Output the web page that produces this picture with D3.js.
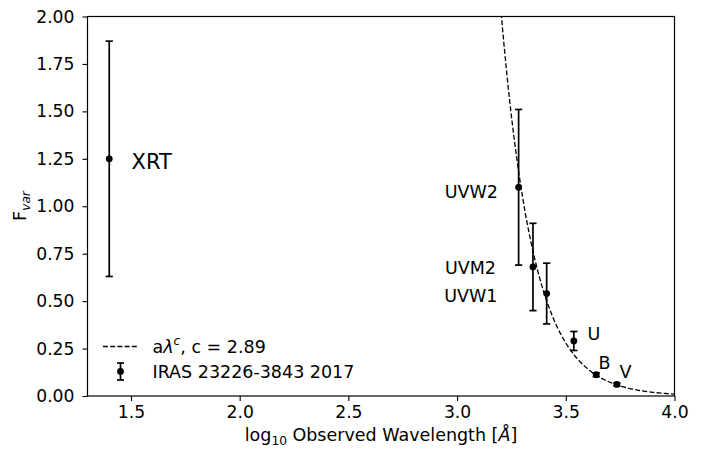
<!DOCTYPE html>
<html><head><meta charset="utf-8">
<script src="https://cdn.jsdelivr.net/npm/d3@7"></script>
<style>body{margin:0;background:#fff}svg{display:block;font-family:"DejaVu Sans",sans-serif}text{fill:#000}</style>
</head><body><svg id="c" width="702" height="452"></svg>
<script>
const filters = ["XRT","UVW2","UVM2","UVW1","U","B","V"];
const logWave = [1.40, 3.283, 3.349, 3.412, 3.537, 3.640, 3.735];
const fvar = [1.25, 1.10, 0.68, 0.54, 0.29, 0.112, 0.061];
const fvarErr = [0.62, 0.41, 0.23, 0.16, 0.05, 0.01, 0.008];
const xTicks = [1.5, 2.0, 2.5, 3.0, 3.5, 4.0];
const yTicks = [0, 0.25, 0.5, 0.75, 1.0, 1.25, 1.5, 1.75, 2.0];
const fitLogA = 9.561, fitC = 2.89;

const svg = d3.select("#c");
const L = 87.5, R = 674.5, T = 16.5, B = 396;
const FS = 17.2, LFS = 17.5;
const x = d3.scaleLinear().domain([1.3, 4.0]).range([L, R]);
const y = d3.scaleLinear().domain([0, 2.0]).range([B, T]);

svg.append("defs").append("clipPath").attr("id","clip")
  .append("rect").attr("x",L).attr("y",T).attr("width",R-L).attr("height",B-T);

// fit curve
const fitX = d3.range(3.0, 4.0001, 0.005);
const line = d3.line().x(d=>x(d)).y(d=>y(Math.pow(10, fitLogA - fitC*d)));
svg.append("path").attr("d", line(fitX)).attr("clip-path","url(#clip)")
  .attr("fill","none").attr("stroke","#000").attr("stroke-width",1.3).attr("stroke-dasharray","5,2.2");

// error bars & points
const g = svg.append("g");
filters.forEach((f,i)=>{
  const cx = x(logWave[i]);
  const y0 = y(fvar[i]-fvarErr[i]), y1 = y(fvar[i]+fvarErr[i]);
  g.append("line").attr("x1",cx).attr("x2",cx).attr("y1",y0).attr("y2",y1).attr("stroke","#000").attr("stroke-width",1.7);
  [y0,y1].forEach(yy=>g.append("line").attr("x1",cx-3.6).attr("x2",cx+3.6).attr("y1",yy).attr("y2",yy).attr("stroke","#000").attr("stroke-width",1.7));
  g.append("circle").attr("cx",cx).attr("cy",y(fvar[i])).attr("r",3.4).attr("fill","#000");
});

// labels
const lab = (t, xx, yy, anchor, fs) => svg.append("text").attr("x",xx).attr("y",yy).attr("text-anchor",anchor)
  .attr("font-size",fs).attr("dominant-baseline","central").text(t);
lab("XRT", 131.5, 162, "start", 21);
lab("UVW2", 498, 192, "end", LFS);
lab("UVM2", 496, 267.5, "end", LFS);
lab("UVW1", 497.5, 296, "end", LFS);
lab("U", 587.5, 334, "start", LFS);
lab("B", 598.5, 362.5, "start", LFS);
lab("V", 619.5, 372, "start", LFS);

// axes
const xa = svg.append("g").attr("transform",`translate(0,${B})`)
  .call(d3.axisBottom(x).tickValues(xTicks).tickFormat(d3.format(".1f")).tickSize(5).tickPadding(4.5));
const ya = svg.append("g").attr("transform",`translate(${L},0)`)
  .call(d3.axisLeft(y).tickValues(yTicks).tickFormat(d3.format(".2f")).tickSize(5).tickPadding(8));
[xa,ya].forEach(a=>{a.select(".domain").remove(); a.selectAll("text").attr("font-size",FS).attr("font-family","DejaVu Sans").attr("fill","#000");
  a.selectAll("line").attr("stroke","#000").attr("stroke-width",1.1);});
svg.append("rect").attr("x",L).attr("y",T).attr("width",R-L).attr("height",B-T)
  .attr("fill","none").attr("stroke","#000").attr("stroke-width",1.2);

// axis titles
const xt = svg.append("text").attr("x",(L+R)/2).attr("y",441).attr("text-anchor","middle").attr("font-size",LFS);
xt.append("tspan").text("log");
xt.append("tspan").attr("font-size",12.2).attr("dy",4).text("10");
xt.append("tspan").attr("dy",-4).text(" Observed Wavelength [");
xt.append("tspan").attr("font-style","italic").text("Å");
xt.append("tspan").text("]");
const yt = svg.append("text").attr("transform","translate(25.5,206) rotate(-90)").attr("text-anchor","middle").attr("font-size",LFS);
yt.append("tspan").text("F");
yt.append("tspan").attr("font-size",12.2).attr("font-style","italic").attr("dy",4).text("var");

// legend
svg.append("line").attr("x1",103).attr("x2",138).attr("y1",346.5).attr("y2",346.5)
  .attr("stroke","#000").attr("stroke-width",1.3).attr("stroke-dasharray","5,2.2");
const lt = svg.append("text").attr("x",152.5).attr("y",347).attr("dominant-baseline","central").attr("font-size",LFS);
lt.append("tspan").text("a");
lt.append("tspan").attr("font-style","italic").text("λ");
lt.append("tspan").attr("font-size",12.2).attr("font-style","italic").attr("dy",-6).text("c");
lt.append("tspan").attr("dy",6).text(", c = 2.89");
svg.append("line").attr("x1",120.5).attr("x2",120.5).attr("y1",363).attr("y2",380).attr("stroke","#000").attr("stroke-width",1.7);
[363,380].forEach(yy=>svg.append("line").attr("x1",117).attr("x2",124).attr("y1",yy).attr("y2",yy).attr("stroke","#000").attr("stroke-width",1.7));
svg.append("circle").attr("cx",120.5).attr("cy",371.5).attr("r",3.4).attr("fill","#000");
svg.append("text").attr("x",152.5).attr("y",372).attr("dominant-baseline","central").attr("font-size",LFS).text("IRAS 23226-3843 2017");
</script></body></html>
